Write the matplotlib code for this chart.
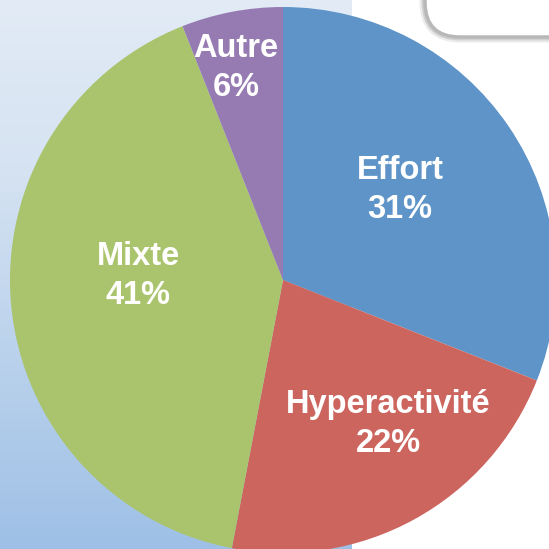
import numpy as np
import matplotlib.pyplot as plt
from matplotlib.patches import FancyBboxPatch

plt.rcParams['font.family'] = ['Liberation Sans', 'DejaVu Sans']

# data
categories = ["Effort", "Hyperactivité", "Mixte", "Autre"]
shares = [31, 22, 41, 6]
colors = ["#5e94c8", "#cc655e", "#aac46d", "#957bb2"]
# label placement: (radius fraction, angle in degrees)
label_pos = [(0.541, 37.6), (0.653, -53.9), (0.531, 178.6), (0.795, 102.5)]

W = H = 549
fig = plt.figure(figsize=(5.49, 5.49), dpi=100)
ax = fig.add_axes([0, 0, 1, 1])
ax.set_xlim(0, W)
ax.set_ylim(0, H)
ax.set_aspect("equal")
ax.axis("off")

# --- background: gradient panel on left, white on right ---
top = np.array([226, 235, 246]) / 255
mid = np.array([214, 227, 242]) / 255
bot = np.array([158, 192, 230]) / 255
t = np.linspace(0, 1, 300)[:, None]
grad = np.where(t < 0.3, top + (mid - top) * (t / 0.3),
                mid + (bot - mid) * ((t - 0.3) / 0.7))
ax.imshow(grad[:, None, :], extent=[0, 352, 0, H], aspect="auto",
          origin="upper", zorder=0)

# rounded box at top right, with soft shadow
for i, (lw, c) in enumerate([(8, "#ececec"), (5, "#d0d0d0"), (2.5, "#b8b8b8")]):
    box = FancyBboxPatch((425, 512), 200, 100,
                         boxstyle="round,pad=0,rounding_size=35",
                         fc="white", ec=c, lw=lw, zorder=1 + i)
    ax.add_patch(box)

# --- pie ---
cx, cy, r = 283, 269, 273
wedges, _ = ax.pie(shares, colors=colors, startangle=90, counterclock=False,
                   center=(cx, cy), radius=r, frame=True,
                   wedgeprops=dict(linewidth=0))
for w in wedges:
    w.set_zorder(5)
ax.set_xlim(0, W)
ax.set_ylim(0, H)
ax.set_aspect("equal")
ax.axis("off")

for name, val, (fr, ang) in zip(categories, shares, label_pos):
    x = cx + fr * r * np.cos(np.radians(ang))
    y = cy + fr * r * np.sin(np.radians(ang))
    ax.text(x, y, f"{name}\n{val}%", ha="center", va="center", color="white",
            fontsize=23.5, fontweight="bold", linespacing=1.33, zorder=10)

fig.savefig("out.png", dpi=100)
